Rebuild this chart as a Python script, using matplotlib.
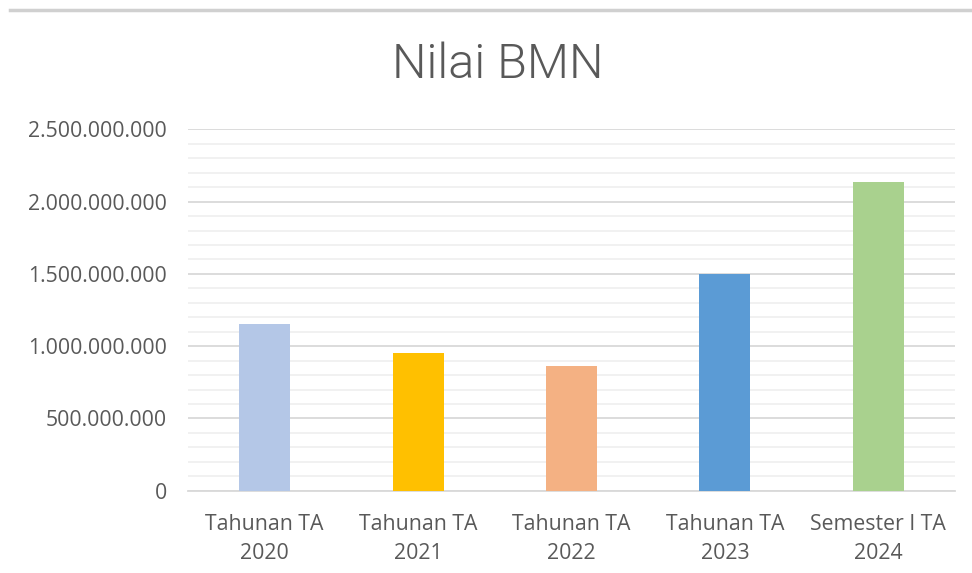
import matplotlib.pyplot as plt
from matplotlib.ticker import FuncFormatter, MultipleLocator
from matplotlib.lines import Line2D

categories = ["Tahunan TA\n2020", "Tahunan TA\n2021", "Tahunan TA\n2022",
              "Tahunan TA\n2023", "Semester I TA\n2024"]
values = [1154000000, 951000000, 864000000, 1500000000, 2138000000]
colors = ["#b4c7e7", "#ffc000", "#f4b183", "#5b9bd5", "#a9d18e"]

text_color = "#595959"
plt.rcParams["font.family"] = ["Open Sans", "DejaVu Sans"]

fig = plt.figure(figsize=(9.72, 5.73), dpi=100)
ax = fig.add_axes([0.1934, 0.1436, 0.7891, 0.6307])

x = range(len(categories))
ax.bar(x, values, width=0.333, color=colors, zorder=3)

ax.set_xlim(-0.5, len(categories) - 0.5)
ax.set_ylim(0, 2500000000)
ax.yaxis.set_major_locator(MultipleLocator(500000000))
ax.yaxis.set_minor_locator(MultipleLocator(100000000))
ax.yaxis.set_major_formatter(FuncFormatter(lambda v, p: f"{int(v):,}".replace(",", ".")))
ax.grid(axis="y", which="major", color="#d9d9d9", linewidth=1.3, zorder=0)
ax.grid(axis="y", which="minor", color="#f0f0f0", linewidth=1.3, zorder=0)

ax.set_xticks(list(x))
ax.set_xticklabels(categories)
ax.tick_params(axis="both", which="both", length=0, labelsize=15.3, colors=text_color)
ax.tick_params(axis="y", pad=15)
ax.tick_params(axis="x", pad=17)
for lbl in ax.get_xticklabels():
    lbl.set_linespacing(1.45)

for s in ["top", "right", "left"]:
    ax.spines[s].set_visible(False)
ax.spines["bottom"].set_color("#d9d9d9")
ax.spines["bottom"].set_linewidth(1.3)

fig.text(0.512, 0.887, "Nilai BMN", ha="center", va="center", fontsize=35,
         color=text_color, family=["Roboto", "DejaVu Sans"], fontweight=300)

fig.add_artist(Line2D([0.01, 1.0], [0.983, 0.983], color="#d0d0d0", linewidth=2.5,
                      transform=fig.transFigure))

fig.savefig("out.png", dpi=100)
